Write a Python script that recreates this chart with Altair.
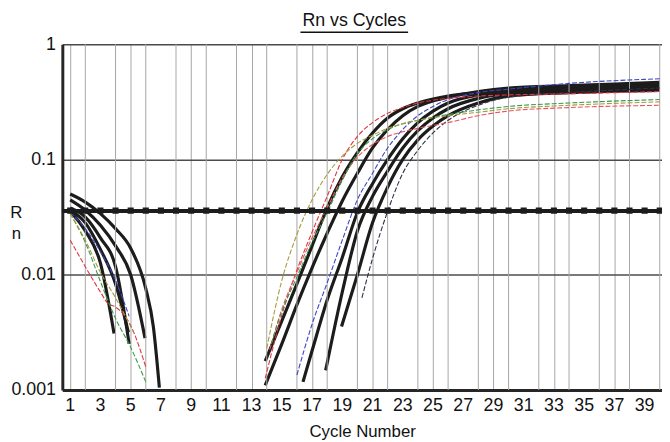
import altair as alt
import pandas as pd

FONT = "Liberation Sans"
TITLE = "Rn vs Cycles"
THRESHOLD = 0.036
marker_cycles = list(range(1, 41))
x_label_values = list(range(1, 41, 2))
x_minor_grid = list(range(2, 41, 2))
y_tick_values = [0.001, 0.01, 0.1, 1]

# ---- amplification curves: cycle positions and log10(Rn)
blackA_cyc = [13.9, 15, 16, 17, 18, 19, 20, 21, 22, 23, 24, 26, 28, 30, 34, 40]
blackA_log = [-2.75, -2.40, -2.08, -1.75, -1.42, -1.15, -0.94, -0.77, -0.64, -0.56, -0.51, -0.45, -0.42, -0.40, -0.38, -0.35]
blackB_cyc = [13.9, 15, 16, 17, 18, 19, 20, 21, 22, 23, 24, 26, 28, 30, 34, 40]
blackB_log = [-2.96, -2.60, -2.26, -1.94, -1.64, -1.36, -1.12, -0.90, -0.74, -0.62, -0.54, -0.46, -0.41, -0.38, -0.36, -0.33]
blackC_cyc = [16.4, 17, 18, 19, 20, 21, 22, 23, 24, 25, 26, 28, 30, 34, 40]
blackC_log = [-2.93, -2.66, -2.22, -1.85, -1.46, -1.21, -1.00, -0.82, -0.68, -0.58, -0.51, -0.44, -0.41, -0.39, -0.37]
blackD_cyc = [17.9, 19, 20, 21, 22, 23, 24, 25, 26, 28, 30, 34, 40]
blackD_log = [-2.83, -2.15, -1.62, -1.32, -1.10, -0.90, -0.75, -0.64, -0.56, -0.47, -0.43, -0.41, -0.39]
blackE_cyc = [18.95, 20, 21, 22, 23, 24, 25, 26, 28, 30, 34, 40]
blackE_log = [-2.45, -2.00, -1.55, -1.24, -1.00, -0.83, -0.71, -0.62, -0.51, -0.45, -0.42, -0.40]
navy_cyc = [20.3, 21, 22, 23, 24, 25, 26, 28, 30, 34, 40]
navy_log = [-2.20, -1.86, -1.45, -1.12, -0.92, -0.77, -0.66, -0.53, -0.46, -0.42, -0.38]
blue_cyc = [16, 17, 18, 19, 20, 21, 22, 23, 24, 25, 26, 28, 30, 34, 40]
blue_log = [-2.87, -2.43, -2.07, -1.70, -1.35, -1.12, -0.90, -0.74, -0.62, -0.54, -0.48, -0.42, -0.39, -0.34, -0.30]
redHi_cyc = [13.9, 15, 16, 17, 18, 19, 20, 21, 22, 23, 24, 26, 28, 30, 34, 40]
redHi_log = [-2.90, -2.35, -1.96, -1.63, -1.32, -1.00, -0.80, -0.68, -0.60, -0.55, -0.51, -0.47, -0.45, -0.44, -0.43, -0.41]
redLo_cyc = [14.2, 15, 16, 17, 18, 19, 20, 21, 22, 23, 24, 26, 28, 30, 34, 40]
redLo_log = [-2.65, -2.30, -1.98, -1.68, -1.42, -1.16, -0.98, -0.87, -0.80, -0.76, -0.73, -0.68, -0.62, -0.58, -0.55, -0.53]
green_cyc = [14.3, 15, 16, 17, 18, 19, 20, 21, 22, 23, 24, 26, 28, 30, 34, 40]
green_log = [-2.60, -2.32, -2.02, -1.72, -1.46, -1.18, -0.95, -0.82, -0.74, -0.69, -0.66, -0.61, -0.57, -0.54, -0.51, -0.48]
olive_cyc = [14, 15, 16, 17, 18, 19, 20, 21, 22, 23, 24, 26, 28, 30, 34, 40]
olive_log = [-2.64, -2.05, -1.65, -1.35, -1.13, -0.97, -0.86, -0.79, -0.73, -0.69, -0.66, -0.62, -0.59, -0.56, -0.53, -0.50]

# ---- early-cycle (decaying) curves
decK1_cyc = [1, 2, 3, 4, 5, 6, 6.5, 6.9]
decK1_log = [-1.30, -1.37, -1.47, -1.60, -1.77, -2.12, -2.45, -2.98]
decK2_cyc = [1, 2, 3, 4, 5, 5.95]
decK2_log = [-1.35, -1.44, -1.57, -1.75, -2.00, -2.55]
decK3_cyc = [1, 2, 3, 4, 4.9]
decK3_log = [-1.42, -1.50, -1.68, -1.93, -2.60]
decK4_cyc = [1, 2, 3, 4, 4.85]
decK4_log = [-1.44, -1.55, -1.78, -2.08, -2.50]
decK5_cyc = [1, 2, 3, 3.9]
decK5_log = [-1.45, -1.62, -1.90, -2.51]
decRed_cyc = [1, 2, 3, 3.5, 4, 5, 6]
decRed_log = [-1.70, -1.93, -2.15, -2.25, -2.28, -2.44, -2.80]
decGreen_cyc = [1, 2, 3, 4, 5, 6]
decGreen_log = [-1.47, -1.72, -2.06, -2.38, -2.63, -2.93]
decBlue_cyc = [1, 2, 3, 4, 4.9]
decBlue_log = [-1.46, -1.60, -1.80, -2.05, -2.36]
decOlive_cyc = [1, 2, 3, 4, 5.2]
decOlive_log = [-1.47, -1.70, -1.98, -2.20, -2.50]

black_curves = {
    "A": (blackA_cyc, blackA_log), "B": (blackB_cyc, blackB_log),
    "C": (blackC_cyc, blackC_log), "D": (blackD_cyc, blackD_log),
    "E": (blackE_cyc, blackE_log),
    "K1": (decK1_cyc, decK1_log), "K2": (decK2_cyc, decK2_log),
    "K3": (decK3_cyc, decK3_log), "K4": (decK4_cyc, decK4_log),
    "K5": (decK5_cyc, decK5_log),
}
thin_curves = {
    "navy": (navy_cyc, navy_log, "navy"), "blue": (blue_cyc, blue_log, "blue"),
    "redHi": (redHi_cyc, redHi_log, "red"), "redLo": (redLo_cyc, redLo_log, "red2"),
    "green": (green_cyc, green_log, "green"), "olive": (olive_cyc, olive_log, "olive"),
    "dRed": (decRed_cyc, decRed_log, "red"), "dGreen": (decGreen_cyc, decGreen_log, "green"),
    "dBlue": (decBlue_cyc, decBlue_log, "blue"), "dOlive": (decOlive_cyc, decOlive_log, "olive"),
}
tone_domain = ["navy", "blue", "red", "red2", "green", "olive"]
tone_range = ["#303048", "#3a46c4", "#e0343c", "#ea5260", "#3a9848", "#a89a3c"]

rows = []
for name, (cyc, lg) in black_curves.items():
    for c, v in zip(cyc, lg):
        rows.append({"curve": name, "cycle": c, "rn": 10 ** v})
black_df = pd.DataFrame(rows)
rows = []
for name, (cyc, lg, tone) in thin_curves.items():
    for c, v in zip(cyc, lg):
        rows.append({"curve": name, "tone": tone, "cycle": c, "rn": 10 ** v})
thin_df = pd.DataFrame(rows)
marker_df = pd.DataFrame({"cycle": marker_cycles, "rn": [THRESHOLD] * len(marker_cycles)})
minor_df = pd.DataFrame({"cycle": x_minor_grid})
xlab_df = pd.DataFrame({"cycle": x_label_values, "label": [str(v) for v in x_label_values]})
title_df = pd.DataFrame({"title": [TITLE]})

x_enc = alt.X(
    "cycle:Q",
    scale=alt.Scale(domain=[0.48, 40.15], nice=False, zero=False),
    axis=alt.Axis(
        values=x_label_values, labels=False,
        grid=True, gridColor="#a6a6a6", gridWidth=1,
        ticks=False, domainColor="#262626", domainWidth=3,
        title="Cycle Number", titleFont=FONT, titleFontSize=17,
        titleFontWeight="normal", titleColor="#111111", titlePadding=34,
    ),
)
y_enc = alt.Y(
    "rn:Q",
    scale=alt.Scale(type="log", domain=[0.001, 1], nice=False),
    axis=alt.Axis(
        values=y_tick_values, format="~g",
        grid=True, gridColor="#4c4c4c", gridWidth=1.5,
        ticks=False, domainColor="#262626", domainWidth=3,
        labelFont=FONT, labelFontSize=18, labelColor="#111111", labelPadding=7,
        labelFlush=False, labelOverlap=False,
        title=["R", "n"], titleFont=FONT, titleFontSize=17, titleFontWeight="normal",
        titleColor="#111111", titleAngle=0, titleAlign="center",
        titleBaseline="alphabetic", titleX=-47, titleY=175, titleLineHeight=22,
    ),
)

black_layer = alt.Chart(black_df).mark_line(
    color="#1c1c1c", strokeWidth=3.2, interpolate="monotone", clip=True
).encode(x=x_enc, y=y_enc, detail="curve:N")

minor_grid = alt.Chart(minor_df).mark_rule(color="#a6a6a6", strokeWidth=1).encode(
    x=alt.X("cycle:Q")
)

thin_layer = alt.Chart(thin_df).mark_line(
    strokeWidth=1.1, strokeDash=[5, 2], interpolate="monotone", clip=True
).encode(
    x="cycle:Q", y="rn:Q", detail="curve:N",
    color=alt.Color("tone:N", scale=alt.Scale(domain=tone_domain, range=tone_range), legend=None),
)

threshold_rule = alt.Chart(marker_df).mark_rule(
    color="#1c1c1c", strokeWidth=3.5
).encode(y=alt.datum(THRESHOLD))

threshold_marks = alt.Chart(marker_df).mark_square(
    color="#1c1c1c", size=38, opacity=1, clip=True
).encode(x="cycle:Q", y="rn:Q")

x_labels = alt.Chart(xlab_df).mark_text(
    font=FONT, fontSize=18, color="#111111", align="center", baseline="top"
).encode(x="cycle:Q", y=alt.value(357), text="label:N")

title_text = alt.Chart(title_df).mark_text(
    font=FONT, fontSize=18, color="#111111", align="center", baseline="alphabetic"
).encode(text="title:N", x=alt.value(295.5), y=alt.value(-18))

underline = alt.Chart(title_df).mark_rule(color="#111111", strokeWidth=1.5).encode(
    x=alt.value(241), x2=alt.value(350), y=alt.value(-12)
)

chart = alt.layer(
    black_layer, minor_grid, thin_layer, threshold_rule, threshold_marks,
    x_labels, title_text, underline
).properties(
    width=607, height=350,
    autosize=alt.AutoSizeParams(type="none"),
    padding={"left": 55, "top": 34, "right": 0, "bottom": 50},
).configure_view(
    fill="#d6d6d6", stroke="#3c3c3c", strokeWidth=2
).configure(background="white")

chart.save("out.html", embed_options={"renderer": "svg", "actions": False})
